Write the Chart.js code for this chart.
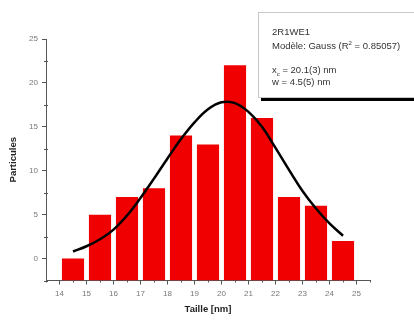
<!DOCTYPE html>
<html>
<head>
<meta charset="utf-8">
<script src="https://cdn.jsdelivr.net/npm/chart.js@4/dist/chart.umd.min.js"></script>
<style>
  html, body { margin: 0; padding: 0; background: #fff; overflow: hidden; }
  #wrap { position: relative; width: 414px; height: 320px; overflow: hidden; }
  #box {
    position: absolute; left: 258px; top: 12px; width: 175px; height: 86px;
    background: #fff; border: 1px solid #c8c8c8;
    box-shadow: 3px 3px 0 #000;
    font-family: "Liberation Sans", Arial, sans-serif; font-size: 9.5px; color: #333;
    line-height: 12px; box-sizing: border-box; padding: 13px 0 0 13px;
  }
  #box sup, #box sub { font-size: 6px; line-height: 0; }
</style>
</head>
<body>
<div id="wrap">
  <canvas id="c" width="414" height="320"></canvas>
  <div id="box">
    <div style="margin-bottom:2px">2R1WE1</div>
    <div>Modèle: Gauss (R<sup>2</sup> = 0.85057)</div>
    <div style="height:12px"></div>
    <div>x<sub>c</sub> = 20.1(3) nm</div>
    <div>w = 4.5(5) nm</div>
  </div>
</div>
<script>
// Histogram bins (centres) and counts
const binCentres = [14.5, 15.5, 16.5, 17.5, 18.5, 19.5, 20.5, 21.5, 22.5, 23.5, 24.5];
const counts     = [0, 5, 7, 8, 14, 13, 22, 16, 7, 6, 2];

// Fitted Gauss curve
const fitX = [14.5, 15, 15.5, 16, 16.5, 17, 17.5, 18, 18.5, 19, 19.5, 20, 20.5, 21, 21.5, 22, 22.5, 23, 23.5, 24, 24.5];
const fitY = [0.8, 1.4, 2.2, 3.3, 4.9, 6.9, 9.1, 11.4, 13.6, 15.5, 17.0, 17.8, 17.7, 16.7, 15.0, 12.6, 10.1, 7.7, 5.7, 4.0, 2.6];

// Axis ticks (major) and minor tick values
const xTicks = [14, 15, 16, 17, 18, 19, 20, 21, 22, 23, 24, 25];
const yTicks = [0, 5, 10, 15, 20, 25];
const xMinor = [13.5, 14.5, 15.5, 16.5, 17.5, 18.5, 19.5, 20.5, 21.5, 22.5, 23.5, 24.5, 25.5];
const yMinor = [-2.5, 2.5, 7.5, 12.5, 17.5, 22.5];

const tickFont = { family: "Liberation Sans, Arial, sans-serif", size: 8 };
const titleFont = { family: "Liberation Sans, Arial, sans-serif", size: 9.5, weight: 'bold' };

const minorTicks = {
  id: 'minorTicks',
  afterDraw(chart) {
    const ctx = chart.ctx, xs = chart.scales.x, ys = chart.scales.y;
    const ca = chart.chartArea;
    ctx.save();
    ctx.strokeStyle = '#555';
    ctx.lineWidth = 1;
    ctx.beginPath();
    xMinor.forEach(v => {
      const px = Math.round(xs.getPixelForValue(v)) + 0.5;
      ctx.moveTo(px, ca.bottom); ctx.lineTo(px, ca.bottom + 2);
    });
    yMinor.forEach(v => {
      const py = Math.round(ys.getPixelForValue(v)) + 0.5;
      ctx.moveTo(ca.left - 2, py); ctx.lineTo(ca.left + 2, py);
    });
    ctx.stroke();
    ctx.restore();
  }
};

new Chart(document.getElementById('c'), {
  type: 'bar',
  data: {
    datasets: [
      {
        type: 'line',
        data: fitX.map((x, i) => ({ x: x, y: fitY[i] })),
        borderColor: '#000',
        borderWidth: 2.5,
        pointRadius: 0,
        tension: 0.4,
        order: 0
      },
      {
        type: 'bar',
        data: binCentres.map((x, i) => ({ x: x, y: counts[i] })),
        backgroundColor: '#f00000',
        borderWidth: 0,
        base: -2.5,
        barPercentage: 0.82,
        categoryPercentage: 1,
        order: 1
      }
    ]
  },
  options: {
    responsive: false,
    animation: false,
    layout: { padding: { left: 0, top: 39, right: 44, bottom: 0 } },
    plugins: { legend: { display: false }, tooltip: { enabled: false } },
    scales: {
      x: {
        type: 'linear',
        offset: false,
        min: 13.5, max: 25.5,
        afterBuildTicks: s => { s.ticks = xTicks.map(v => ({ value: v })); },
        afterFit: s => { s.height = 39.5; },
        grid: { offset: false, drawOnChartArea: false, drawTicks: true, tickLength: 4, color: '#555' },
        border: { display: true, color: '#555', width: 1 },
        ticks: { font: tickFont, color: '#777', padding: 4, maxRotation: 0, autoSkip: false },
        title: { display: true, text: 'Taille [nm]', font: titleFont, color: '#222', padding: { top: 0, bottom: 5 } }
      },
      y: {
        type: 'linear',
        min: -2.5, max: 25,
        afterBuildTicks: s => { s.ticks = yTicks.map(v => ({ value: v })); },
        afterFit: s => { s.width = 46; },
        grid: { drawOnChartArea: false, drawTicks: true, tickLength: 4, color: '#555' },
        border: { display: true, color: '#555', width: 1 },
        ticks: { font: tickFont, color: '#777', padding: 4 },
        title: { display: true, text: 'Particules', font: titleFont, color: '#222', padding: { top: 8, bottom: 0 } }
      }
    }
  },
  plugins: [minorTicks]
});
</script>
</body>
</html>
